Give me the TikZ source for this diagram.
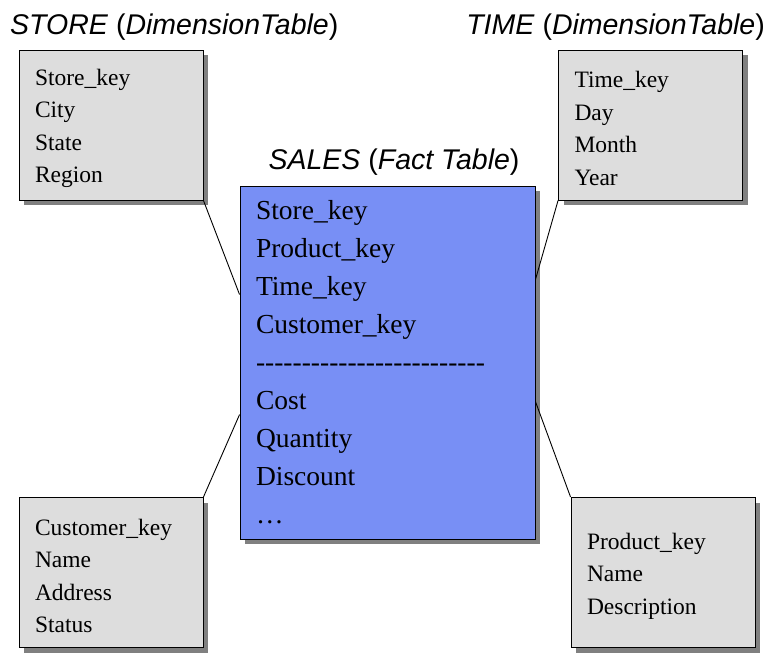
\documentclass[tikz,border=0pt]{standalone}
\usepackage{fontspec}
\setmainfont{Liberation Serif}
\setsansfont{Liberation Sans}
\usetikzlibrary{shadows,calc}
\definecolor{boxgray}{RGB}{221,221,221}
\definecolor{shadowgray}{RGB}{128,128,128}
\definecolor{salesblue}{RGB}{120,143,245}
\newcommand\hyone{\hbox{-}}
\newcommand\hyfive{\hyone\hyone\hyone\hyone\hyone}
\newcommand\hyline{\leavevmode\hyfive\hyfive\hyfive\hyfive\hyfive}
\newcommand\topgap{\rule{0pt}{23pt}}
\begin{document}
\begin{tikzpicture}[x=1pt,y=-1pt,
  boxshadow/.style={drop shadow={shadow xshift=5pt, shadow yshift=-5pt, fill=shadowgray, opacity=1}},
  dimbox/.style={draw=black, line width=0.9pt, fill=boxgray, minimum height=150pt,
    text width=152pt, inner xsep=16pt, align=left,
    font=\fontsize{23.5}{32.5}\selectfont, boxshadow},
  factbox/.style={draw=black, line width=0.9pt, fill=salesblue, minimum height=353pt,
    text width=263pt, inner xsep=16pt, align=left,
    font=\fontsize{27.5}{38}\selectfont, boxshadow},
  title/.style={font=\fontsize{28.5}{34}\selectfont\sffamily, inner sep=0pt},
  link/.style={draw=black, line width=0.9pt}]
\useasboundingbox (0,0) rectangle (774,666);

\node[title, anchor=base west] (tstore) at (10,35) {\textit{STORE} (\textit{DimensionTable})};
\node[title, anchor=base east] (ttime) at (765,35) {\textit{TIME} (\textit{DimensionTable})};
\node[title, anchor=base] (tsales) at (394,170) {\textit{SALES} (\textit{Fact Table})};

\node[dimbox] (store) at (111,125) {\topgap Store\_key\\City\\State\\Region};
\node[dimbox] (time) at (650.5,125) {\topgap Time\_key\\Day\\Month\\Year};
\node[dimbox] (cust) at (111,572.5) {\topgap Customer\_key\\Name\\Address\\Status};
\node[dimbox] (prod) at (663,572.5) {\topgap Product\_key\\Name\\Description};
\node[factbox] (sales) at (387.5,362.5) {Store\_key\\Product\_key\\Time\_key\\Customer\_key\\\hyline\\Cost\\Quantity\\Discount\\…};

\draw[link] (store.south east) -- ($(sales.north west)+(0,109)$);
\draw[link] (time.south west) -- ($(sales.north east)+(0,94)$);
\draw[link] (cust.north east) -- ($(sales.north west)+(0,229)$);
\draw[link] (prod.north west) -- ($(sales.north east)+(0,216)$);
\end{tikzpicture}
\end{document}
